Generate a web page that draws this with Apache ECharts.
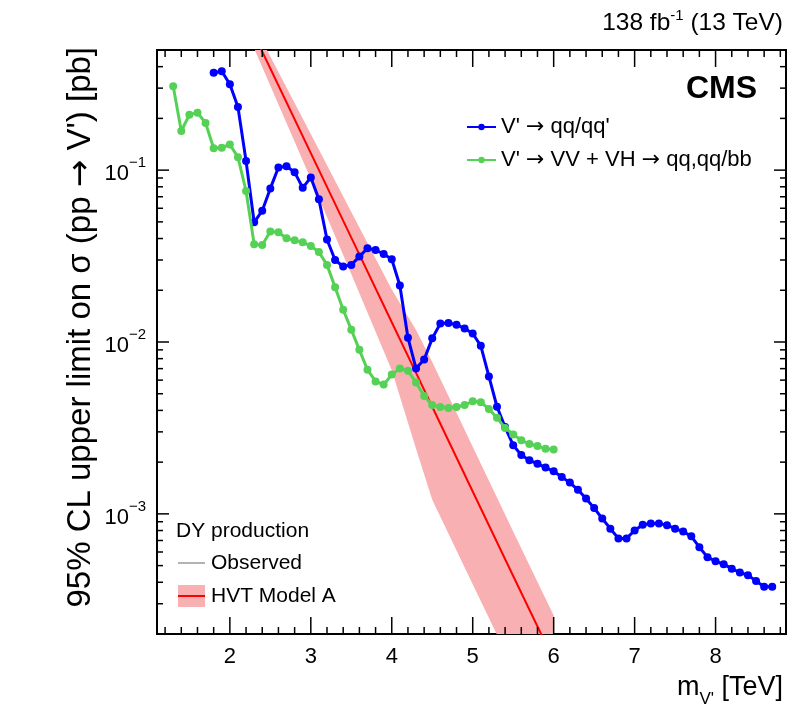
<!DOCTYPE html>
<html>
<head>
<meta charset="utf-8">
<script src="https://cdn.jsdelivr.net/npm/echarts@6/dist/echarts.min.js"></script>
<style>
html, body { margin: 0; padding: 0; background: #ffffff; }
#chart { width: 795px; height: 715px; }
</style>
</head>
<body>
<div id="chart"></div>
<script>
// V' -> qq/qq' observed limit
var massQQ = [1.8, 1.9, 2.0, 2.1, 2.2, 2.3, 2.4, 2.5, 2.6, 2.7, 2.8, 2.9, 3.0, 3.1, 3.2, 3.3, 3.4, 3.5, 3.6, 3.7,
    3.8, 3.9, 4.0, 4.1, 4.2, 4.3, 4.4, 4.5, 4.6, 4.7, 4.8, 4.9, 5.0, 5.1, 5.2, 5.3, 5.4, 5.5, 5.6, 5.7,
    5.8, 5.9, 6.0, 6.1, 6.2, 6.3, 6.4, 6.5, 6.6, 6.7, 6.8, 6.9, 7.0, 7.1, 7.2, 7.3, 7.4, 7.5, 7.6, 7.7,
    7.8, 7.9, 8.0, 8.1, 8.2, 8.3, 8.4, 8.5, 8.6, 8.7];
var limitQQ = [0.369, 0.376, 0.316, 0.233, 0.113, 0.0497, 0.0581, 0.0783, 0.1037, 0.1054, 0.0973, 0.0789, 0.0907, 0.0676, 0.0395, 0.0300, 0.0275, 0.0281, 0.0314, 0.0351,
    0.0343, 0.0325, 0.0303, 0.0213, 0.0106, 0.0070, 0.0079, 0.0105, 0.0128, 0.0129, 0.0126, 0.0120, 0.0112, 0.0095, 0.0063, 0.0042, 0.0032, 0.00251, 0.00220, 0.00205,
    0.00196, 0.00186, 0.00177, 0.00164, 0.00152, 0.00138, 0.00123, 0.00108, 0.00094, 0.00082, 0.00072, 0.00072, 0.00080, 0.000865, 0.00088, 0.00088, 0.00086, 0.00082, 0.00079, 0.00074,
    0.00064, 0.00056, 0.00053, 0.00051, 0.00048, 0.000456, 0.00044, 0.000407, 0.000377, 0.000377];

// V' -> VV + VH -> qq,qq/bb observed limit
var massVV = [1.3, 1.4, 1.5, 1.6, 1.7, 1.8, 1.9, 2.0, 2.1, 2.2, 2.3, 2.4, 2.5, 2.6, 2.7, 2.8, 2.9, 3.0, 3.1, 3.2,
    3.3, 3.4, 3.5, 3.6, 3.7, 3.8, 3.9, 4.0, 4.1, 4.2, 4.3, 4.4, 4.5, 4.6, 4.7, 4.8, 4.9, 5.0, 5.1, 5.2,
    5.3, 5.4, 5.5, 5.6, 5.7, 5.8, 5.9, 6.0];
var limitVV = [0.308, 0.169, 0.210, 0.216, 0.188, 0.134, 0.135, 0.141, 0.119, 0.0756, 0.0371, 0.0367, 0.0439, 0.0435, 0.0401, 0.0391, 0.0380, 0.0362, 0.0334, 0.0281,
    0.0208, 0.0154, 0.0118, 0.0090, 0.0069, 0.0059, 0.00565, 0.00646, 0.0070, 0.0068, 0.00582, 0.00485, 0.00430, 0.00418, 0.00413, 0.00418, 0.00430, 0.00452, 0.00446, 0.00408,
    0.00362, 0.00316, 0.00290, 0.00268, 0.00255, 0.00248, 0.00239, 0.00237];

// HVT model A cross section with its band
var massHVT = [2.2, 2.5, 3.0, 3.5, 4.0, 4.3, 4.5, 5.0, 5.5, 6.0];
var xsecHVT = [0.769, 0.390, 0.1256, 0.0405, 0.01303, 0.00661, 0.0042, 0.00135, 0.000435, 0.000141];
var xsecHVTup = [0.853, 0.458, 0.162, 0.0571, 0.0202, 0.01175, 0.00764, 0.00246, 0.00079, 0.000256];
var xsecHVTdown = [0.655, 0.310, 0.0889, 0.0249, 0.00684, 0.00239, 0.00121, 0.00039, 0.000126, 0.0000406];

var xTickLabels = [2, 3, 4, 5, 6, 7, 8];
var yTickLabels = [0.001, 0.01, 0.1];

var nameQQ = "V' \u2192 qq/qq'";
var nameVV = "V' \u2192 VV + VH \u2192 qq,qq/bb";

var xMin = 1.1, xMax = 8.87, yMin = 2e-4, yMax = 0.5;
var font = 'Liberation Sans';

function pairs(xs, ys) {
    var out = [];
    for (var i = 0; i < xs.length; i++) {
        out.push([xs[i], ys[i]]);
    }
    return out;
}

// put the arrows in DejaVu, it has the wider glyph
function arrows(s) {
    return s.split('\u2192').map(function (p) { return '{t|' + p + '}'; }).join('{r|\u2192}');
}

var xTicks = [];
for (var i = 6; i <= 44; i++) {
    xTicks.push([i / 5, yMin, i % 5 === 0 ? 1 : 0]);
}
var yTicks = [];
for (var e = -4; e <= -1; e++) {
    for (var k = 1; k <= 9; k++) {
        var v = k * Math.pow(10, e);
        if (v >= yMin * 0.999 && v <= yMax * 1.001) {
            yTicks.push([xMin, v, k === 1 ? 1 : 0]);
        }
    }
}

function renderBand(params, api) {
    if (params.dataIndex !== 0) return;
    var pts = [];
    for (var i = 0; i < massHVT.length; i++) {
        pts.push(api.coord([massHVT[i], xsecHVTup[i]]));
    }
    for (var j = massHVT.length - 1; j >= 0; j--) {
        pts.push(api.coord([massHVT[j], xsecHVTdown[j]]));
    }
    return { type: 'polygon', shape: { points: pts }, style: { fill: '#f9b0b2' } };
}

function renderXTick(params, api) {
    var m = api.value(0);
    var len = api.value(2) ? 17 : 7;
    var b = api.coord([m, yMin]);
    var t = api.coord([m, yMax]);
    return {
        type: 'group',
        children: [
            { type: 'line', shape: { x1: b[0], y1: b[1], x2: b[0], y2: b[1] - len }, style: { stroke: '#000', lineWidth: 1.5 } },
            { type: 'line', shape: { x1: t[0], y1: t[1], x2: t[0], y2: t[1] + len }, style: { stroke: '#000', lineWidth: 1.5 } }
        ]
    };
}

function renderYTick(params, api) {
    var val = api.value(1);
    var len = api.value(2) ? 12 : 6;
    var l = api.coord([xMin, val]);
    var r = api.coord([xMax, val]);
    return {
        type: 'group',
        children: [
            { type: 'line', shape: { x1: l[0], y1: l[1], x2: l[0] + len, y2: l[1] }, style: { stroke: '#000', lineWidth: 1.5 } },
            { type: 'line', shape: { x1: r[0], y1: r[1], x2: r[0] - len, y2: r[1] }, style: { stroke: '#000', lineWidth: 1.5 } }
        ]
    };
}

var myChart = echarts.init(document.getElementById('chart'), null, { renderer: 'canvas' });

var option = {
    animation: false,
    backgroundColor: '#ffffff',
    textStyle: { fontFamily: font },
    grid: {
        left: 157, right: 9, top: 50, bottom: 81,
        show: true, borderColor: '#000', borderWidth: 2, backgroundColor: 'transparent'
    },
    xAxis: {
        type: 'value',
        min: xMin,
        max: xMax,
        splitNumber: 8,
        axisLine: { show: false },
        axisTick: { show: false },
        splitLine: { show: false },
        axisLabel: {
            interval: 0,
            margin: 12,
            fontSize: 22,
            color: '#000',
            fontFamily: font,
            formatter: function (val) {
                for (var i = 0; i < xTickLabels.length; i++) {
                    if (Math.abs(val - xTickLabels[i]) < 1e-6) return String(xTickLabels[i]);
                }
                return '';
            }
        }
    },
    yAxis: {
        type: 'log',
        logBase: 10,
        min: yMin,
        max: yMax,
        axisLine: { show: false },
        axisTick: { show: false },
        splitLine: { show: false },
        axisLabel: {
            margin: 11,
            color: '#000',
            fontFamily: font,
            formatter: function (val) {
                for (var i = 0; i < yTickLabels.length; i++) {
                    if (Math.abs(val - yTickLabels[i]) / yTickLabels[i] < 1e-6) {
                        return '{b|10}{s|\u2212' + Math.round(-Math.log10(yTickLabels[i])) + '}';
                    }
                }
                return '';
            },
            rich: {
                b: { fontSize: 22, fontFamily: font, color: '#000', lineHeight: 30, verticalAlign: 'bottom' },
                s: { fontSize: 15, fontFamily: font, color: '#000', lineHeight: 30, verticalAlign: 'top' }
            }
        }
    },
    legend: {
        left: 466,
        top: 116,
        padding: 0,
        orient: 'vertical',
        itemWidth: 29,
        itemHeight: 8,
        itemGap: 11,
        selectedMode: false,
        formatter: function (name) { return arrows(name); },
        textStyle: {
            fontSize: 22, fontFamily: font, color: '#000',
            rich: {
                t: { fontSize: 22, fontFamily: font, color: '#000' },
                r: { fontSize: 22, fontFamily: 'DejaVu Sans', color: '#000' }
            }
        },
        data: [nameQQ, nameVV]
    },
    graphic: [
        {
            type: 'text', x: 783, y: 36,
            style: {
                text: '{a|138 fb}{s|-1}{a| (13 TeV)}',
                textAlign: 'right', textVerticalAlign: 'bottom',
                rich: {
                    a: { fontSize: 24.5, fontFamily: font, fill: '#000', lineHeight: 28, verticalAlign: 'bottom' },
                    s: { fontSize: 15, fontFamily: font, fill: '#000', lineHeight: 28, verticalAlign: 'top' }
                }
            }
        },
        {
            type: 'text', x: 757, y: 89,
            style: { text: 'CMS', font: 'bold 32px "Liberation Sans"', fill: '#000', textAlign: 'right', textVerticalAlign: 'middle' }
        },
        {
            type: 'text', x: 81, y: 47, rotation: Math.PI / 2,
            style: {
                text: arrows('95% CL upper limit on \u03c3 (pp \u2192 V\') [pb]'),
                textAlign: 'right', textVerticalAlign: 'middle',
                rich: {
                    t: { fontSize: 33, fontFamily: font, fill: '#000' },
                    r: { fontSize: 33, fontFamily: 'DejaVu Sans', fill: '#000' }
                }
            }
        },
        {
            type: 'text', x: 783, y: 708,
            style: {
                text: '{a|m}{s|V\'}{a| [TeV]}',
                textAlign: 'right', textVerticalAlign: 'bottom',
                rich: {
                    a: { fontSize: 27, fontFamily: font, fill: '#000', lineHeight: 40, verticalAlign: 'middle' },
                    s: { fontSize: 17, fontFamily: font, fill: '#000', lineHeight: 17, verticalAlign: 'bottom' }
                }
            }
        },
        {
            type: 'text', x: 176, y: 531,
            style: { text: 'DY production', font: '21px "Liberation Sans"', fill: '#000', textVerticalAlign: 'middle' }
        },
        {
            type: 'line', shape: { x1: 178, y1: 563, x2: 205, y2: 563 },
            style: { stroke: '#999999', lineWidth: 1.5 }
        },
        {
            type: 'text', x: 211, y: 563,
            style: { text: 'Observed', font: '21px "Liberation Sans"', fill: '#000', textVerticalAlign: 'middle' }
        },
        {
            type: 'rect', shape: { x: 178, y: 585, width: 27, height: 22 },
            style: { fill: '#f9b0b2' }
        },
        {
            type: 'line', shape: { x1: 178, y1: 596, x2: 205, y2: 596 },
            style: { stroke: '#ff0000', lineWidth: 2 }
        },
        {
            type: 'text', x: 211, y: 596,
            style: { text: 'HVT Model A', font: '21px "Liberation Sans"', fill: '#000', textVerticalAlign: 'middle' }
        }
    ],
    series: [
        {
            name: 'HVT band',
            type: 'custom',
            clip: true,
            silent: true,
            z: 1,
            renderItem: renderBand,
            data: pairs(massHVT, xsecHVT)
        },
        {
            name: 'HVT Model A',
            type: 'line',
            z: 2,
            showSymbol: false,
            clip: true,
            lineStyle: { color: '#ff0000', width: 2 },
            itemStyle: { color: '#ff0000' },
            data: pairs(massHVT, xsecHVT)
        },
        {
            name: nameQQ,
            type: 'line',
            z: 3,
            symbol: 'circle',
            symbolSize: 8,
            clip: true,
            lineStyle: { color: '#0000ff', width: 3 },
            itemStyle: { color: '#0000ff' },
            data: pairs(massQQ, limitQQ)
        },
        {
            name: nameVV,
            type: 'line',
            z: 4,
            symbol: 'circle',
            symbolSize: 8,
            clip: true,
            lineStyle: { color: '#55d155', width: 3 },
            itemStyle: { color: '#55d155' },
            data: pairs(massVV, limitVV)
        },
        {
            type: 'custom',
            silent: true,
            clip: false,
            z: 10,
            renderItem: renderXTick,
            encode: { x: 0, y: 1 },
            data: xTicks
        },
        {
            type: 'custom',
            silent: true,
            clip: false,
            z: 10,
            renderItem: renderYTick,
            encode: { x: 0, y: 1 },
            data: yTicks
        }
    ]
};

myChart.setOption(option);
</script>
</body>
</html>
